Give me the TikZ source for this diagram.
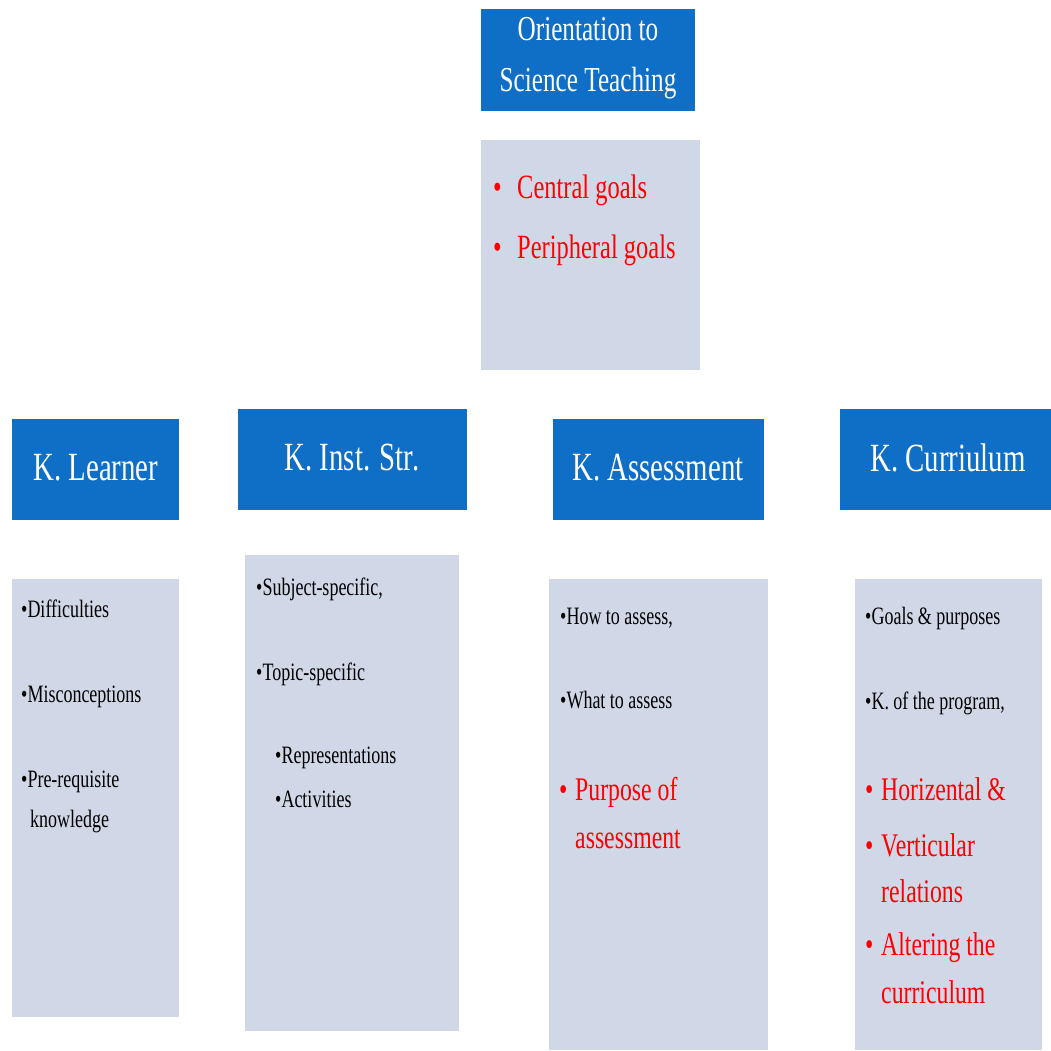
\documentclass[tikz,border=0pt]{standalone}
\usepackage{fontspec}
\setmainfont[FakeStretch=0.72]{Liberation Serif}
\definecolor{headblue}{HTML}{0F6FC6}
\definecolor{listfill}{HTML}{D0D8E8}
\definecolor{hotred}{HTML}{FF0000}
\begin{document}
\begin{tikzpicture}[x=1pt,y=-1pt,
  headbox/.style={fill=headblue,draw=none},
  listbox/.style={fill=listfill,draw=none},
  headtext/.style={text=white,font=\fontsize{40}{46}\selectfont,inner sep=0pt},
  item/.style={anchor=base west,inner sep=0pt,font=\fontsize{25}{29}\selectfont},
  reditem/.style={anchor=base west,inner sep=0pt,text=hotred,font=\fontsize{33}{38}\selectfont},
  goalitem/.style={reditem,font=\fontsize{34}{39}\selectfont}]
\useasboundingbox[fill=white] (0,0) rectangle (1051,1050);

% header boxes
\fill[headbox] (481,9) rectangle (695,111);
\node[headtext,align=center,font=\fontsize{35}{51}\selectfont] (orient) at (588,58) {Orientation to\\Science Teaching};
\fill[headbox] (12,419) rectangle (179,520);
\node[headtext] (learner) at (96,468) {K. Learner};
\fill[headbox] (238,409) rectangle (467,510);
\node[headtext] (inst) at (352,458) {K. Inst. Str.};
\fill[headbox] (553,419) rectangle (764,520);
\node[headtext] (assess) at (658,468) {K. Assessment};
\fill[headbox] (840,409) rectangle (1051,510);
\node[headtext] (curr) at (948,458) {K. Curriulum};

% content boxes
\fill[listbox] (481,140) rectangle (700,370);
\fill[listbox] (12,579) rectangle (179,1017);
\fill[listbox] (245,555) rectangle (459,1031);
\fill[listbox] (549,579) rectangle (768,1050);
\fill[listbox] (855,579) rectangle (1042,1050);

% goals
\node[goalitem] (g1b) at (493,198) {\textbullet};
\node[goalitem] (g1) at (517,198) {Central goals};
\node[goalitem] (g2b) at (493,258) {\textbullet};
\node[goalitem] (g2) at (517,258) {Peripheral goals};

% learner
\node[item] (l1) at (21,617) {\textbullet Difficulties};
\node[item] (l2) at (21,702) {\textbullet Misconceptions};
\node[item] (l3) at (21,787) {\textbullet Pre-requisite};
\node[item] (l4) at (30,827) {knowledge};

% instructional strategies
\node[item] (i1) at (256,595) {\textbullet Subject-specific,};
\node[item] (i2) at (256,680) {\textbullet Topic-specific};
\node[item] (i3) at (275,763) {\textbullet Representations};
\node[item] (i4) at (275,807) {\textbullet Activities};

% assessment
\node[item] (a1) at (560,624) {\textbullet How to assess,};
\node[item] (a2) at (560,708) {\textbullet What to assess};
\node[reditem] (a3b) at (559,800) {\textbullet};
\node[reditem] (a3) at (575,800) {Purpose of};
\node[reditem] (a4) at (575,848) {assessment};

% curriculum
\node[item] (c1) at (865,624) {\textbullet Goals \& purposes};
\node[item] (c2) at (865,709) {\textbullet K. of the program,};
\node[reditem] (c3b) at (865,800) {\textbullet};
\node[reditem] (c3) at (881,800) {Horizental \&};
\node[reditem] (c4b) at (865,856) {\textbullet};
\node[reditem] (c4) at (881,856) {Verticular};
\node[reditem] (c5) at (881,902) {relations};
\node[reditem] (c6b) at (865,955) {\textbullet};
\node[reditem] (c6) at (881,955) {Altering the};
\node[reditem] (c7) at (881,1003) {curriculum};
\end{tikzpicture}
\end{document}
